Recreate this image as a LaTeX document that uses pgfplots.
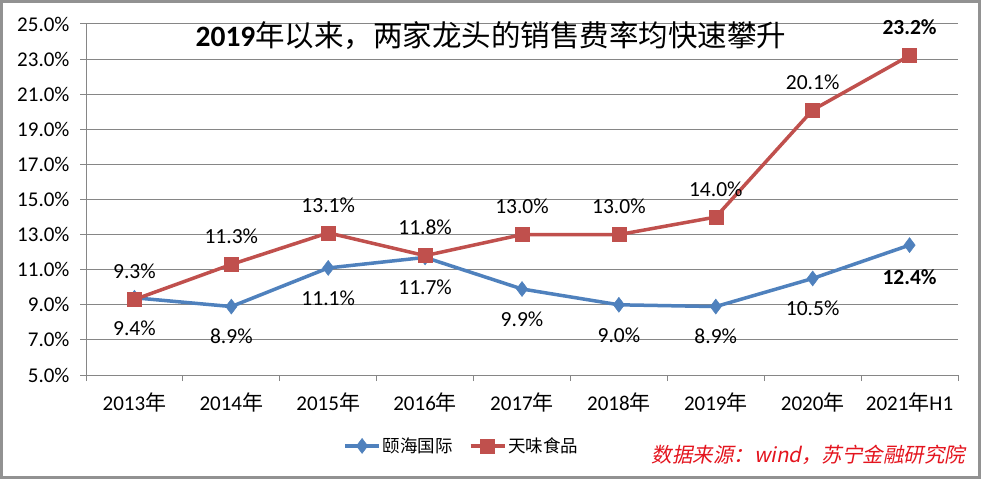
\documentclass[border=0pt]{standalone}
\usepackage{pgfplots}
\pgfplotsset{compat=1.18}
\usepackage{fontspec}
\setmainfont{Carlito}
\newfontfamily\cjk{Noto Sans CJK SC}
\newfontfamily\cjkit[FakeSlant=0.2]{Noto Sans CJK SC}
\definecolor{bl}{HTML}{4F81BD}
\definecolor{rd}{HTML}{C0504D}
\definecolor{gr}{HTML}{868686}
\definecolor{src}{RGB}{228,20,30}
\begin{document}
\begin{tikzpicture}[x=1pt,y=1pt]
\useasboundingbox (0,0) rectangle (981,479);
\fill[white] (0,0) rectangle (981,479);
\begin{axis}[
  at={(86pt,104pt)}, anchor=south west,
  width=872pt, height=351pt, scale only axis,
  xmin=-0.5, xmax=8.5, ymin=5, ymax=25,
  clip=false,
  axis x line*=bottom, axis y line*=left,
  axis line style={gr, line width=1pt},
  ytick={5,7,...,25},
  ymajorgrids, grid style={gr, line width=1pt},
  tick align=outside, major tick length=6pt, minor tick length=6pt,
  tick style={gr, line width=1pt},
  xtick={0,...,8},
  xticklabels={2013{\cjk 年},2014{\cjk 年},2015{\cjk 年},2016{\cjk 年},2017{\cjk 年},2018{\cjk 年},2019{\cjk 年},2020{\cjk 年},2021{\cjk 年}H1},
  minor xtick={-0.5,0.5,...,8.5},
  every major x tick/.append style={draw=none},
  yticklabel={\pgfmathprintnumber[fixed,fixed zerofill,precision=1]{\tick}\%},
  /pgf/number format/assume math mode=true,
  ticklabel style={font=\fontsize{21}{24}\selectfont, text=black},
  yticklabel style={xshift=-7pt},
  xticklabel style={yshift=-8pt},
  legend style={at={(0.431,-0.202)}, anchor=center, draw=none, fill=none,
    legend columns=2, font=\cjk\fontsize{17.5}{20}\selectfont,
    /tikz/every even column/.append style={column sep=14pt}},
  legend image code/.code={\draw[mark repeat=2,mark phase=2,#1] plot coordinates {(0pt,0pt) (17pt,0pt) (34pt,0pt)};},
]
\addplot[bl, line width=3.5pt, mark=diamond*, mark size=7.5pt, mark options={solid,line width=0.5pt}]
  coordinates {(0,9.4) (1,8.9) (2,11.1) (3,11.7) (4,9.9) (5,9.0) (6,8.9) (7,10.5) (8,12.4)};
\addlegendentry{颐海国际}
\addplot[rd, line width=3.5pt, mark=square*, mark size=7pt, mark options={solid,line width=0.5pt}]
  coordinates {(0,9.3) (1,11.3) (2,13.1) (3,11.8) (4,13.0) (5,13.0) (6,14.0) (7,20.1) (8,23.2)};
\addlegendentry{天味食品}
% labels
\addplot[draw=none, forget plot, point meta=y,
  nodes near coords={\pgfmathprintnumber[fixed,fixed zerofill,precision=1]{\pgfplotspointmeta}\%},
  every node near coord/.append style={anchor=center, yshift=-30pt, font=\fontsize{21.5}{24}\selectfont, text=black}]
  coordinates {(0,9.4) (1,8.9) (2,11.1) (3,11.7) (4,9.9) (5,9.0) (6,8.9) (7,10.5)};
\addplot[draw=none, forget plot, point meta=y,
  nodes near coords={\textbf{\pgfmathprintnumber[fixed,fixed zerofill,precision=1]{\pgfplotspointmeta}\%}},
  every node near coord/.append style={anchor=center, yshift=-32pt, font=\fontsize{21.5}{24}\selectfont, text=black}]
  coordinates {(8,12.4)};
\addplot[draw=none, forget plot, point meta=y,
  nodes near coords={\pgfmathprintnumber[fixed,fixed zerofill,precision=1]{\pgfplotspointmeta}\%},
  every node near coord/.append style={anchor=center, yshift=28pt, font=\fontsize{21.5}{24}\selectfont, text=black}]
  coordinates {(0,9.3) (1,11.3) (2,13.1) (3,11.8) (4,13.0) (5,13.0) (6,14.0) (7,20.1)};
\addplot[draw=none, forget plot, point meta=y,
  nodes near coords={\textbf{\pgfmathprintnumber[fixed,fixed zerofill,precision=1]{\pgfplotspointmeta}\%}},
  every node near coord/.append style={anchor=center, yshift=28pt, font=\fontsize{21.5}{24}\selectfont, text=black}]
  coordinates {(8,23.2)};
\end{axis}
\node[font=\fontsize{29.5}{34}\selectfont] at (491,443) {\textbf{2019}{\cjk 年以来，两家龙头的销售费率均快速攀升}};
\node[anchor=east, text=src, font=\cjkit\fontsize{20.5}{24}\selectfont] at (969,24) {数据来源：wind，苏宁金融研究院};
\draw[gr!90, line width=3pt] (1.5,1.5) rectangle (979.5,477.5);
\end{tikzpicture}
\end{document}
